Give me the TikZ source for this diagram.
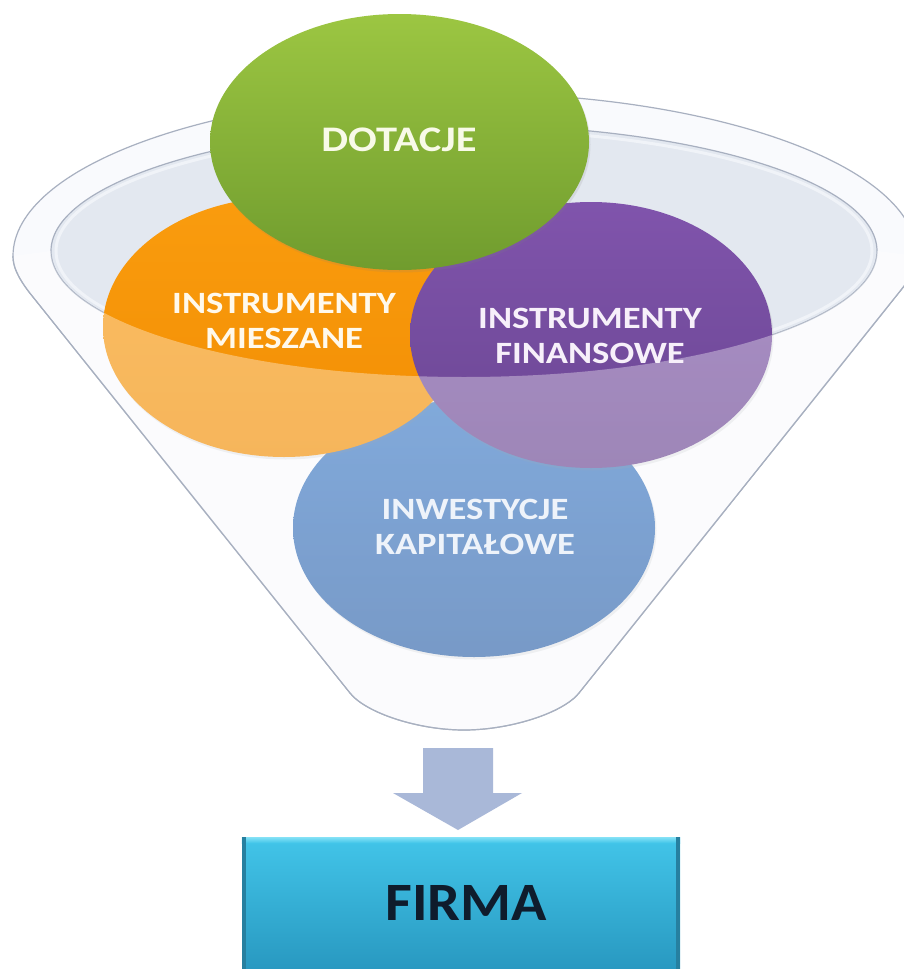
\documentclass[tikz,border=0pt]{standalone}
\usepackage{fontspec}
\newfontfamily\lblfont{Carlito}[FakeStretch=1.18]
\newfontfamily\firmafont{Carlito}[FakeStretch=1.08]
\usetikzlibrary{shapes.geometric,shadows,calc}
\definecolor{bandc}{RGB}{249,250,253}
\definecolor{innerc}{RGB}{227,232,240}
\definecolor{ringc}{RGB}{240,243,248}
\definecolor{linec}{RGB}{168,176,192}
\definecolor{grA}{RGB}{156,198,66}
\definecolor{grB}{RGB}{112,156,46}
\definecolor{orA}{RGB}{250,156,14}
\definecolor{orB}{RGB}{242,142,4}
\definecolor{puA}{RGB}{128,84,172}
\definecolor{puB}{RGB}{106,70,146}
\definecolor{blA}{RGB}{62,124,200}
\definecolor{blB}{RGB}{48,100,170}
\definecolor{arrowc}{RGB}{169,184,216}
\definecolor{cyA}{RGB}{66,197,233}
\definecolor{cyB}{RGB}{40,152,192}
\definecolor{cytop}{RGB}{134,226,246}
\definecolor{cydark}{RGB}{38,128,160}
\definecolor{firmac}{RGB}{15,28,44}
\definecolor{gtxt}{RGB}{248,250,232}
\definecolor{otxt}{RGB}{255,249,236}
\definecolor{ptxt}{RGB}{247,240,250}
\definecolor{btxt}{RGB}{238,243,250}
\begin{document}
\begin{tikzpicture}[x=1pt,y=-1pt,
  bubble/.style={ellipse, inner sep=0pt, draw=none,
    drop shadow={opacity=0.15, shadow xshift=1.5pt, shadow yshift=-2.5pt}},
  lbl/.style={align=center, inner sep=0pt,
    font=\lblfont\bfseries\fontsize{31}{35}\selectfont},
  rimline/.style={draw=linec, line width=1.2pt, line join=round}]
\useasboundingbox (0,0) rectangle (904,969);
\clip (0,0) rectangle (904,969);
\fill[white] (0,0) rectangle (904,969);
\def\funnelpath{(13,256) arc[start angle=180,end angle=360,x radius=452,y radius=163]
  .. controls (917,266) and (912,276) .. (901,290) -- (579,693) .. controls (563,713) and (510,730) .. (464,730)
  .. controls (418,730) and (366,713) .. (350,693) -- (29,292) .. controls (17,276) and (13,266) .. cycle}
% funnel back
\fill[bandc] \funnelpath;
\filldraw[fill=innerc, rimline] (464,251) ellipse [x radius=413, y radius=126];
\draw[ringc, line width=3pt] (464,251) ellipse [x radius=408, y radius=121];
\draw[rimline] \funnelpath;
% circles
\node[bubble, top color=blA, bottom color=blB, minimum width=362pt, minimum height=258pt] (inwestycje) at (474,528) {};
\node[bubble, top color=orA, bottom color=orB, minimum width=362pt, minimum height=260pt] (mieszane) at (284,327) {};
\node[bubble, top color=puA, bottom color=puB, minimum width=362pt, minimum height=266pt] (finansowe) at (591,335) {};
\node[bubble, top color=grA, bottom color=grB, minimum width=379pt, minimum height=256pt] (dotacje) at (399.5,142) {};
% front glass of the funnel
\fill[white, opacity=0.35] (51,251) arc[start angle=180,end angle=0,x radius=413,y radius=126]
  -- (917,256) .. controls (917,266) and (912,276) .. (901,290) -- (579,693) .. controls (563,713) and (510,730) .. (464,730)
  .. controls (418,730) and (366,713) .. (350,693) -- (29,292) .. controls (17,276) and (13,266) .. (13,256) -- cycle;
\draw[rimline] (917,256) .. controls (917,266) and (912,276) .. (901,290) -- (579,693) .. controls (563,713) and (510,730) .. (464,730)
  .. controls (418,730) and (366,713) .. (350,693) -- (29,292) .. controls (17,276) and (13,266) .. (13,256);
% labels
\node[lbl, text=gtxt, font=\lblfont\bfseries\fontsize{36}{40}\selectfont] (dotacje-t) at (399,140) {DOTACJE};
\node[lbl, text=otxt] (mieszane-t) at (284,320.5) {INSTRUMENTY\\MIESZANE};
\node[lbl, text=ptxt] (finansowe-t) at (590,336) {INSTRUMENTY\\FINANSOWE};
\node[lbl, text=btxt] (inwestycje-t) at (475,527) {INWESTYCJE\\KAPITAŁOWE};
% arrow
\fill[arrowc] (423,748) -- (493,748) -- (493,793) -- (522,793) -- (458,830) -- (393,793) -- (423,793) -- cycle;
% FIRMA box
\node[rectangle, inner sep=0pt, minimum width=438pt, minimum height=134pt,
  top color=cyA, bottom color=cyB, anchor=north] (firma) at (461,837) {};
\fill[top color=cytop, bottom color=cyA] (firma.north west) rectangle ($(firma.north east)+(0,6)$);
\fill[cydark] (firma.north west) rectangle ($(firma.south west)+(4,0)$);
\fill[cydark] ($(firma.north east)+(-4,0)$) rectangle (firma.south east);
\node[inner sep=0pt, text=firmac, font=\firmafont\bfseries\fontsize{54}{60}\selectfont] (firma-t) at (466,902.5) {FIRMA};
\end{tikzpicture}
\end{document}
